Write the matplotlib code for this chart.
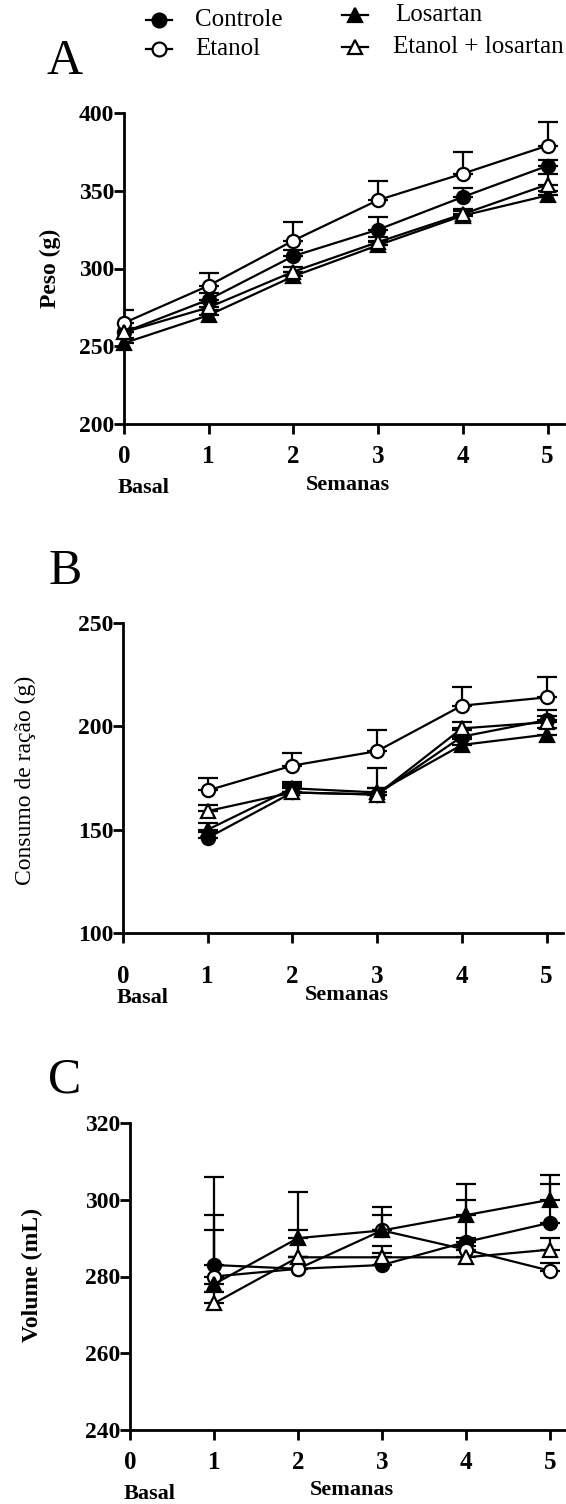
import matplotlib
matplotlib.use("Agg")
import matplotlib.pyplot as plt
from matplotlib.lines import Line2D
import numpy as np

plt.rcParams["font.family"] = ["Liberation Serif", "DejaVu Serif"]

# semanas
weeks_a = [0, 1, 2, 3, 4, 5]
weeks_bc = [1, 2, 3, 4, 5]

# A - peso (g), media e erro (so para cima)
peso_controle = [259, 280, 308, 325, 346, 366]
peso_etanol = [265, 289, 318, 344, 361, 379]
peso_losartan = [252, 270, 295, 315, 334, 347]
peso_etanol_los = [259, 275, 298, 317, 335, 354]
peso_err_controle = [3, 4, 4, 8, 6, 4]
peso_err_etanol = [8, 8, 12, 12, 14, 15]
peso_err_losartan = [3, 3, 3, 3, 3, 3]
peso_err_etanol_los = [3, 3, 3, 3, 3, 7]

# B - consumo de racao (g)
racao_controle = [146, 168, 167, 195, 203]
racao_etanol = [169, 181, 188, 210, 214]
racao_losartan = [150, 170, 168, 191, 196]
racao_etanol_los = [159, 168, 167, 199, 202]
racao_err_controle = [3, 4, 3, 3, 5]
racao_err_etanol = [6, 6, 10, 9, 10]
racao_err_losartan = [3, 3, 12, 3, 3]
racao_err_etanol_los = [3, 3, 3, 3, 3]

# C - volume (mL)
vol_controle = [283, 282, 283, 289, 294]
vol_etanol = [280, 282, 292, 287, 281.5]
vol_losartan = [278, 290, 292, 296, 300]
vol_etanol_los = [273, 285, 285, 285, 287]
vol_err_controle = [23, 3, 3, 11, 10]
vol_err_etanol = [16, 3, 6, 3, 2]
vol_err_losartan = [14, 12, 4, 8, 6.5]
vol_err_etanol_los = [3, 7, 3, 3, 3]

labels = ["Controle", "Etanol", "Losartan", "Etanol + losartan"]
markers = ["o", "o", "^", "^"]
faces = ["black", "white", "black", "white"]

W, H = 566, 1504
fig = plt.figure(figsize=(W / 100, H / 100), dpi=100)


def px_rect(x0, x_per_unit, xmax, y_bottom, y_top):
    width = xmax * x_per_unit
    return [x0 / W, 1 - y_bottom / H, width / W, (y_bottom - y_top) / H]


def draw_panel(ax, x, series, errors, ylim, yticks, ylabel_xy, ylabel, ylabel_weight,
               letter_xy, letter, tick_pad, basal_y, sem_y):
    for ys, es in zip(series, errors):
        ys = np.asarray(ys, dtype=float)
        es = np.asarray(es, dtype=float)
        ax.errorbar(x, ys, yerr=[np.zeros_like(es), es], fmt="none", ecolor="black",
                    elinewidth=1.6, capsize=7, capthick=1.6, zorder=2)
    for ys, m, fc in zip(series, markers, faces):
        ax.plot(x, ys, color="black", lw=1.6, marker=m, markersize=9.5,
                markerfacecolor=fc, markeredgecolor="black", markeredgewidth=1.6, zorder=3,
                clip_on=False)
    ax.set_xlim(0, 5.2)
    ax.set_ylim(*ylim)
    ax.set_xticks([0, 1, 2, 3, 4, 5])
    ax.set_yticks(yticks)
    for s in ["top", "right"]:
        ax.spines[s].set_visible(False)
    for s in ["left", "bottom"]:
        ax.spines[s].set_linewidth(2)
    ax.tick_params(axis="both", direction="out", length=7, width=2)
    ax.tick_params(axis="y", pad=0, labelsize=17)
    ax.tick_params(axis="x", pad=tick_pad, labelsize=18)
    for t in ax.get_xticklabels() + ax.get_yticklabels():
        t.set_fontweight("bold")
    ax.text(0.23, basal_y, "Basal", transform=ax.get_xaxis_transform(), ha="center",
            va="center", fontsize=16, fontweight="bold")
    ax.text(2.64, sem_y, "Semanas", transform=ax.get_xaxis_transform(), ha="center",
            va="center", fontsize=16, fontweight="bold")
    fig.text(ylabel_xy[0] / W, 1 - ylabel_xy[1] / H, ylabel, rotation=90, ha="center",
             va="center", fontsize=17, fontweight=ylabel_weight)
    fig.text(letter_xy[0] / W, 1 - letter_xy[1] / H, letter, ha="center", va="center",
             fontsize=36)


ax_a = fig.add_axes(px_rect(124, 84.7, 5.2, 424, 113))
draw_panel(ax_a, weeks_a,
           [peso_controle, peso_etanol, peso_losartan, peso_etanol_los],
           [peso_err_controle, peso_err_etanol, peso_err_losartan, peso_err_etanol_los],
           (200, 400), [200, 250, 300, 350, 400], (50, 268), "Peso (g)", "bold",
           (65, 62), "A", 8, -0.205, -0.195)

ax_b = fig.add_axes(px_rect(123, 84.7, 5.2, 933, 623))
draw_panel(ax_b, weeks_bc,
           [racao_controle, racao_etanol, racao_losartan, racao_etanol_los],
           [racao_err_controle, racao_err_etanol, racao_err_losartan, racao_err_etanol_los],
           (100, 250), [100, 150, 200, 250], (25, 780), "Consumo de ração (g)", "normal",
           (65, 572), "B", 16, -0.21, -0.20)

ax_c = fig.add_axes(px_rect(130, 84.0, 5.2, 1430, 1123))
draw_panel(ax_c, weeks_bc,
           [vol_controle, vol_etanol, vol_losartan, vol_etanol_los],
           [vol_err_controle, vol_err_etanol, vol_err_losartan, vol_err_etanol_los],
           (240, 320), [240, 260, 280, 300, 320], (32, 1275), "Volume (mL)", "bold",
           (65, 1080), "C", 8, -0.21, -0.195)

# legenda desenhada a mao, posicoes em pixels
leg_handle_x = [(146, 172), (146, 172), (342, 368), (342, 368)]
leg_text_x = [195, 195, 395, 393]
leg_y = [20, 49, 15, 47]
for (hx0, hx1), tx, ly, lab, m, fc in zip(leg_handle_x, leg_text_x, leg_y, labels, markers, faces):
    yf = 1 - ly / H
    fig.add_artist(Line2D([hx0 / W, hx1 / W], [yf, yf], transform=fig.transFigure,
                          color="black", lw=1.6))
    fig.add_artist(Line2D([(hx0 + hx1) / 2 / W], [yf], transform=fig.transFigure,
                          marker=m, markersize=10, markerfacecolor=fc,
                          markeredgecolor="black", markeredgewidth=1.6, lw=0))
    fig.text(tx / W, yf, lab, ha="left", va="center", fontsize=18)

fig.savefig("out.png", dpi=100)
